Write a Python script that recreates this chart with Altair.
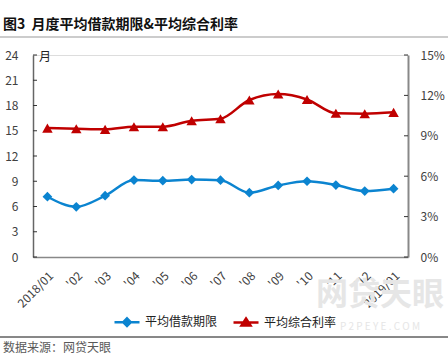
import altair as alt
import pandas as pd

months = ["2018/01", "'02", "'03", "'04", "'05", "'06", "'07", "'08", "'09", "'10", "'11", "'12", "2019/01"]
term = [7.16, 5.97, 7.28, 9.14, 9.06, 9.2, 9.12, 7.64, 8.5, 9.0, 8.55, 7.84, 8.12]
rate_pct = [9.57, 9.52, 9.48, 9.67, 9.67, 10.12, 10.27, 11.66, 12.1, 11.7, 10.67, 10.64, 10.74]
series = ["平均借款期限", "平均综合利率"]
colors = ["#0B84D0", "#C00000"]
left_ticks = [0, 3, 6, 9, 12, 15, 18, 21, 24]
right_ticks = [0, 0.03, 0.06, 0.09, 0.12, 0.15]

rows = []
for m, t, r in zip(months, term, rate_pct):
    rows.append({"month": m, "series": series[0], "value": t})
    rows.append({"month": m, "series": series[1], "value": r / 100})
df = pd.DataFrame(rows)

FONT = "Noto Sans CJK SC"
LBL = "#404040"

legend_shapes = ["M-1,0H1M0,-0.3L0.3,0L0,0.3L-0.3,0Z", "M-1,0H1M0,-0.32L0.36,0.24L-0.36,0.24Z"]
legend = alt.Legend(
    title=None, orient="none", legendX=80, legendY=253, direction="horizontal",
    labelFont=FONT, labelFontSize=12, labelColor="#222222", symbolSize=625,
    symbolStrokeWidth=2.5, symbolOpacity=1, labelOffset=4, columnPadding=10,
)
cscale = alt.Scale(domain=series, range=colors)
color_lg = alt.Color("series:N", scale=cscale, legend=legend)

xenc = alt.X("month:N", sort=months, scale=alt.Scale(type="point", padding=0.5),
             axis=alt.Axis(title=None, labelAngle=-45, labelFont=FONT, labelFontSize=12,
                           labelColor=LBL, ticks=False, domainColor="#888888", domainWidth=1.5,
                           labelPadding=13, grid=False))

yl = alt.Y("value:Q", scale=alt.Scale(domain=[0, 24], nice=False),
           axis=alt.Axis(title=None, values=left_ticks, orient="left", grid=False,
                         labelFont=FONT, labelFontSize=12, labelColor=LBL, labelPadding=15,
                         domainColor="#666666", domainWidth=1.5, ticks=False))
yr = alt.Y("value:Q", scale=alt.Scale(domain=[0, 0.15], nice=False),
           axis=alt.Axis(title=None, values=right_ticks, format=".0%", orient="right",
                         grid=False, labelFont=FONT, labelFontSize=12, labelColor=LBL, labelPadding=12,
                         domainColor="#888888", domainWidth=2, ticks=False))

left_base = alt.Chart(df).transform_filter(alt.datum.series == series[0])
left_line = left_base.mark_line(interpolate="monotone", strokeWidth=2.5).encode(x=xenc, y=yl, color=color_lg)
left_pts = left_base.mark_point(shape="diamond", filled=True, size=95, opacity=1).encode(x=xenc, y=yl, color=color_lg)
left_tk = alt.Chart(pd.DataFrame({"value": left_ticks})).mark_rule(color="#333333", strokeWidth=1).encode(
    y=yl, x=alt.value(0), x2=alt.value(4))

right_base = alt.Chart(df).transform_filter(alt.datum.series == series[1])
right_line = right_base.mark_line(interpolate="monotone", strokeWidth=2.5).encode(x=xenc, y=yr, color=color_lg)
right_pts = right_base.mark_point(shape="triangle-up", filled=True, size=110, opacity=1).encode(x=xenc, y=yr, color=color_lg)
right_tk = alt.Chart(pd.DataFrame({"value": right_ticks})).mark_rule(color="#333333", strokeWidth=1).encode(
    y=yr, x=alt.value(371), x2=alt.value(375))

# invisible layer that only lends a line-plus-marker shape to the legend symbols
leg_layer = alt.Chart(pd.DataFrame({"series": series})).mark_point(filled=True, size=625, opacity=0).encode(
    color=color_lg,
    shape=alt.Shape("series:N", scale=alt.Scale(domain=series, range=legend_shapes), legend=legend),
)

deco = pd.DataFrame({"a": [0]})
title = alt.Chart(deco).mark_text(text="图3\u00a0\u00a0月度平均借款期限&平均综合利率", font=FONT, fontSize=14,
                                  fontWeight="bold", align="left", baseline="middle", color="#111111").encode(
    x=alt.value(-30), y=alt.value(-30))
top_rule = alt.Chart(deco).mark_rule(color="#999999", strokeWidth=1).encode(
    x=alt.value(-33), x2=alt.value(415), y=alt.value(-18))
bot_rule = alt.Chart(deco).mark_rule(color="#111111", strokeWidth=1).encode(
    x=alt.value(-33), x2=alt.value(415), y=alt.value(282))
source = alt.Chart(deco).mark_text(text="数据来源：网贷天眼", font=FONT, fontSize=12, align="left",
                                   baseline="middle", color="#595959").encode(x=alt.value(-30), y=alt.value(293))
unit = alt.Chart(deco).mark_text(text="月", font=FONT, fontSize=12, align="center", baseline="middle",
                                 color="#222222").encode(x=alt.value(12), y=alt.value(2))
wm1 = alt.Chart(deco).mark_text(text="网贷天眼", font=FONT, fontSize=32, fontWeight="bold", align="center",
                                baseline="middle", color="#E6E6E6").encode(x=alt.value(347), y=alt.value(240))
wm2 = alt.Chart(deco).mark_text(text="P 2 P E Y E . C O M", font=FONT, fontSize=10, align="center",
                                baseline="middle", color="#E6E6E6").encode(x=alt.value(347), y=alt.value(272))

chart = alt.layer(
    wm1, wm2,
    alt.layer(left_line, left_pts, left_tk),
    alt.layer(right_line, right_pts, right_tk),
    leg_layer,
    title, top_rule, bot_rule, source, unit,
).resolve_scale(y="independent").properties(
    width=375, height=202,
    autosize=alt.AutoSizeParams(type="none"),
    padding={"left": 33, "top": 55, "right": 40, "bottom": 100},
).configure_view(stroke=None).configure(background="white")

chart.save("out.html", embed_options={"renderer": "svg", "actions": False})
